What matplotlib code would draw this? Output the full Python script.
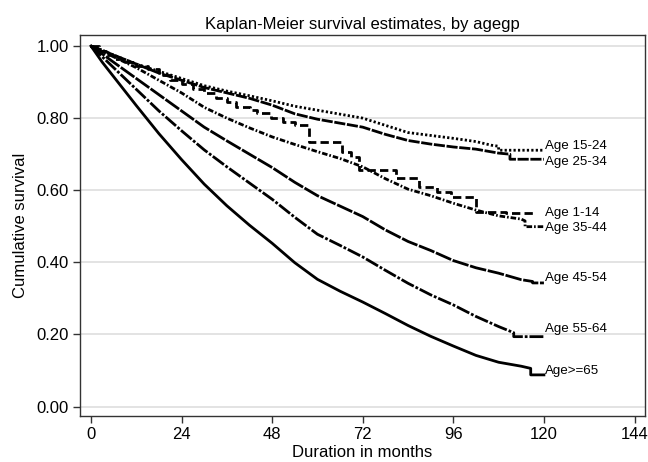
import matplotlib
matplotlib.use("Agg")
from matplotlib import pyplot as plt

plt.rcParams['font.family'] = ['Liberation Sans', 'DejaVu Sans']

# Kaplan-Meier estimates (months, survival)
t_1_14 = [0, 2, 4, 6, 9, 12, 15, 18, 21, 24, 27, 30, 33, 36, 38.5, 42, 44, 47.8, 51, 54,
          57.8, 66.5, 69, 71, 80.7, 86.8, 91.6, 95.3, 102.1, 110, 117.2]
s_1_14 = [1.0, 0.985, 0.975, 0.965, 0.955, 0.945, 0.935, 0.92, 0.905, 0.895, 0.88, 0.869,
          0.855, 0.845, 0.83, 0.822, 0.815, 0.80, 0.79, 0.78, 0.735, 0.705, 0.693, 0.655,
          0.633, 0.61, 0.596, 0.582, 0.541, 0.537, 0.537]

t_15_24 = [0, 3, 6, 12, 18, 24, 30, 36, 42, 48, 54, 60, 66, 72, 78, 84, 90, 96, 102, 106, 108, 108, 120]
s_15_24 = [1.0, 0.988, 0.975, 0.95, 0.93, 0.91, 0.89, 0.875, 0.862, 0.848, 0.833, 0.822, 0.811,
           0.80, 0.78, 0.76, 0.752, 0.744, 0.735, 0.725, 0.722, 0.711, 0.711]

t_25_34 = [0, 3, 6, 12, 18, 24, 30, 36, 42, 48, 54, 60, 66, 72, 78, 84, 90, 96, 102, 108, 111, 111, 120]
s_25_34 = [1.0, 0.988, 0.975, 0.95, 0.925, 0.905, 0.885, 0.87, 0.855, 0.836, 0.812, 0.797, 0.786,
           0.775, 0.755, 0.738, 0.728, 0.72, 0.714, 0.703, 0.70, 0.686, 0.686]

t_35_44 = [0, 3, 6, 12, 18, 24, 30, 36, 42, 48, 54, 60, 66, 72, 78, 84, 90, 96, 102, 108, 114, 115, 115, 120]
s_35_44 = [1.0, 0.985, 0.97, 0.94, 0.905, 0.87, 0.83, 0.80, 0.773, 0.748, 0.727, 0.707, 0.688,
           0.665, 0.632, 0.603, 0.585, 0.564, 0.545, 0.529, 0.52, 0.515, 0.499, 0.499]

t_45_54 = [0, 3, 6, 12, 18, 24, 30, 36, 42, 48, 54, 60, 66, 72, 78, 84, 90, 96, 102, 108, 114, 117, 117, 120]
s_45_54 = [1.0, 0.978, 0.955, 0.91, 0.865, 0.82, 0.775, 0.737, 0.70, 0.663, 0.622, 0.585, 0.556,
           0.527, 0.49, 0.458, 0.433, 0.405, 0.385, 0.37, 0.352, 0.347, 0.343, 0.343]

t_55_64 = [0, 3, 6, 12, 18, 24, 30, 36, 42, 48, 54, 60, 66, 72, 78, 84, 90, 96, 102, 108, 112, 112, 120]
s_55_64 = [1.0, 0.97, 0.94, 0.88, 0.82, 0.765, 0.712, 0.665, 0.62, 0.575, 0.525, 0.478, 0.447,
           0.415, 0.378, 0.342, 0.31, 0.282, 0.25, 0.222, 0.205, 0.194, 0.194]

t_65 = [0, 3, 6, 12, 18, 24, 30, 36, 42, 48, 54, 60, 66, 72, 78, 84, 90, 96, 102, 108, 114,
        116.5, 116.5, 120]
s_65 = [1.0, 0.955, 0.915, 0.835, 0.757, 0.685, 0.617, 0.557, 0.503, 0.453, 0.399, 0.353, 0.32,
        0.29, 0.258, 0.225, 0.195, 0.168, 0.142, 0.123, 0.112, 0.106, 0.088, 0.088]

grupos = ["Age 1-14", "Age 15-24", "Age 25-34", "Age 35-44", "Age 45-54", "Age 55-64", "Age>=65"]
tempos = [t_1_14, t_15_24, t_25_34, t_35_44, t_45_54, t_55_64, t_65]
sobrev = [s_1_14, s_15_24, s_25_34, s_35_44, s_45_54, s_55_64, s_65]

# estilo de cada curva e posicao vertical do rotulo
tracos = [(3, 1.5), (0.8, 0.8), (4, 0.6), (2, 0.7, 0.6, 0.7), (6, 0.6), (5, 0.7, 1, 0.7), None]
rotulo_y = [0.536, 0.722, 0.679, 0.496, 0.356, 0.215, 0.100]

fig = plt.figure(figsize=(6.48, 4.62), dpi=100)
ax = fig.add_axes([0.1235, 0.0996, 0.872, 0.8246])

for i in range(len(grupos)):
    estilo = "steps-post" if i == 0 else "default"
    linha, = ax.plot(tempos[i], sobrev[i], color="black", lw=2.0, drawstyle=estilo,
                     solid_joinstyle="round")
    if tracos[i] is not None:
        linha.set_dashes(tracos[i])
    ax.text(120.4, rotulo_y[i], grupos[i], fontsize=9.6, va="center", ha="left")

ax.set_xlim(-2.9, 146.8)
ax.set_ylim(-0.026, 1.0305)
ax.set_xticks([0, 24, 48, 72, 96, 120, 144])
ax.set_yticks([0, 0.2, 0.4, 0.6, 0.8, 1.0])
ax.set_yticklabels(["%.2f" % v for v in [0, 0.2, 0.4, 0.6, 0.8, 1.0]])
ax.tick_params(labelsize=12, length=5, width=1, color="#333333", pad=3)
ax.yaxis.grid(True, color="#e0e0e0", lw=1.3)
ax.set_axisbelow(True)
for lado in ax.spines.values():
    lado.set_color("#333333")
    lado.set_linewidth(1)

ax.set_title("Kaplan-Meier survival estimates, by agegp", fontsize=12, pad=4)
ax.set_xlabel("Duration in months", fontsize=12, labelpad=2)
ax.set_ylabel("Cumulative survival", fontsize=12, labelpad=6)

fig.savefig("out.png", dpi=100)
